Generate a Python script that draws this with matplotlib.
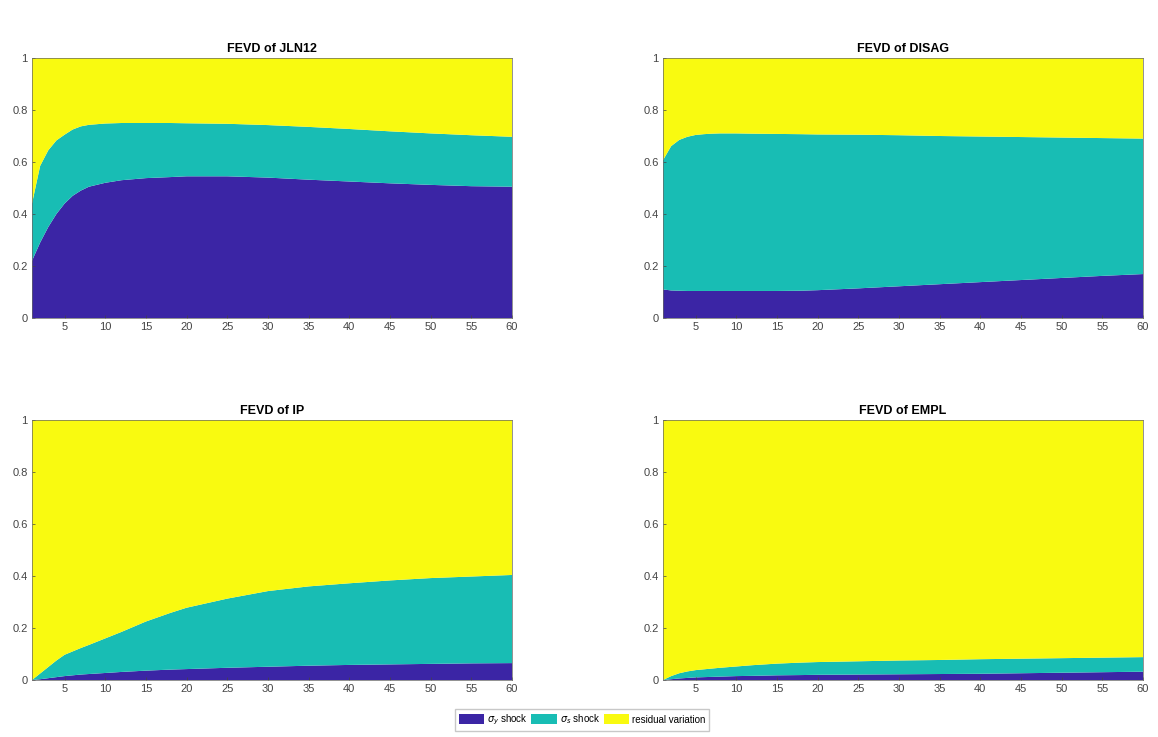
import numpy as np
import matplotlib
matplotlib.use("Agg")
import matplotlib.pyplot as plt

plt.rcParams['font.family'] = ['Liberation Sans', 'DejaVu Sans']

horizons = [1, 2, 3, 4, 5, 6, 7, 8, 10, 12, 15, 18, 20, 25, 30, 35, 40, 45, 50, 55, 60]

# JLN12
jln_sig1 = [0.22, 0.29, 0.35, 0.40, 0.44, 0.47, 0.49, 0.505, 0.52, 0.53, 0.538, 0.542, 0.545, 0.545, 0.54, 0.532, 0.525, 0.518, 0.512, 0.507, 0.505]
jln_sig2 = [0.22, 0.295, 0.295, 0.283, 0.265, 0.255, 0.247, 0.238, 0.228, 0.22, 0.212, 0.208, 0.204, 0.202, 0.202, 0.203, 0.202, 0.2, 0.198, 0.196, 0.192]
# DISAG
dis_sig1 = [0.11, 0.106, 0.105, 0.104, 0.104, 0.104, 0.104, 0.104, 0.104, 0.104, 0.104, 0.105, 0.107, 0.114, 0.122, 0.13, 0.138, 0.146, 0.154, 0.162, 0.169]
dis_sig2 = [0.497, 0.555, 0.58, 0.593, 0.6, 0.603, 0.605, 0.606, 0.606, 0.605, 0.604, 0.602, 0.599, 0.591, 0.581, 0.57, 0.56, 0.55, 0.54, 0.53, 0.521]
# IP
ip_sig1 = [0.0, 0.003, 0.007, 0.011, 0.015, 0.018, 0.021, 0.023, 0.027, 0.031, 0.036, 0.04, 0.042, 0.047, 0.051, 0.055, 0.058, 0.06, 0.062, 0.064, 0.065]
ip_sig2 = [0.0, 0.022, 0.043, 0.064, 0.082, 0.092, 0.102, 0.112, 0.133, 0.154, 0.189, 0.218, 0.236, 0.266, 0.291, 0.305, 0.314, 0.323, 0.33, 0.334, 0.339]
# EMPL
emp_sig1 = [0.0, 0.003, 0.006, 0.008, 0.01, 0.011, 0.012, 0.013, 0.015, 0.016, 0.018, 0.019, 0.02, 0.021, 0.022, 0.023, 0.024, 0.026, 0.028, 0.03, 0.032]
emp_sig2 = [0.0, 0.012, 0.02, 0.025, 0.028, 0.03, 0.032, 0.034, 0.037, 0.041, 0.045, 0.048, 0.049, 0.051, 0.053, 0.054, 0.056, 0.056, 0.056, 0.056, 0.056]

titles = ["FEVD of JLN12", "FEVD of DISAG", "FEVD of IP", "FEVD of EMPL"]
panels = [(jln_sig1, jln_sig2), (dis_sig1, dis_sig2), (ip_sig1, ip_sig2), (emp_sig1, emp_sig2)]
labels = [r"$\sigma_y$ shock", r"$\sigma_s$ shock", "residual variation"]
colors = ["#3B25A5", "#18BDB4", "#F9FA10"]
xticks = list(range(5, 61, 5))
yticks = [0, 0.2, 0.4, 0.6, 0.8, 1]
yticklabels = ["0", "0.2", "0.4", "0.6", "0.8", "1"]

W, H = 1158, 737
fig = plt.figure(figsize=(W / 100, H / 100), dpi=100)
lefts = [32, 663, 32, 663]
tops = [58, 58, 420, 420]
aw, ah = 480, 260
handles = None
for i, (s1, s2) in enumerate(panels):
    ax = fig.add_axes([lefts[i] / W, 1 - (tops[i] + ah) / H, aw / W, ah / H])
    x = np.array(horizons)
    a = np.array(s1)
    b = np.array(s2)
    r = 1 - a - b
    handles = ax.stackplot(x, a, b, r, colors=colors, labels=labels, linewidth=0)
    ax.set_xlim(1, 60)
    ax.set_ylim(0, 1)
    ax.set_xticks(xticks)
    ax.set_yticks(yticks)
    ax.set_yticklabels(yticklabels)
    ax.tick_params(direction='in', length=2.5, width=0.5, labelsize=8, colors='#444444', pad=3)
    for sp in ax.spines.values():
        sp.set_linewidth(0.5)
        sp.set_color('#666666')
    ax.set_title(titles[i], fontsize=9, fontweight='bold', pad=4)

fig.legend(handles, labels, loc='center', bbox_to_anchor=(582 / W, 1 - 720 / H), ncol=3,
           fontsize=7, frameon=True, fancybox=False, edgecolor='#bbbbbb',
           handlelength=2.6, handleheight=1.2, handletextpad=0.3, columnspacing=0.4,
           borderpad=0.4)
fig.savefig("out.png", dpi=100)
